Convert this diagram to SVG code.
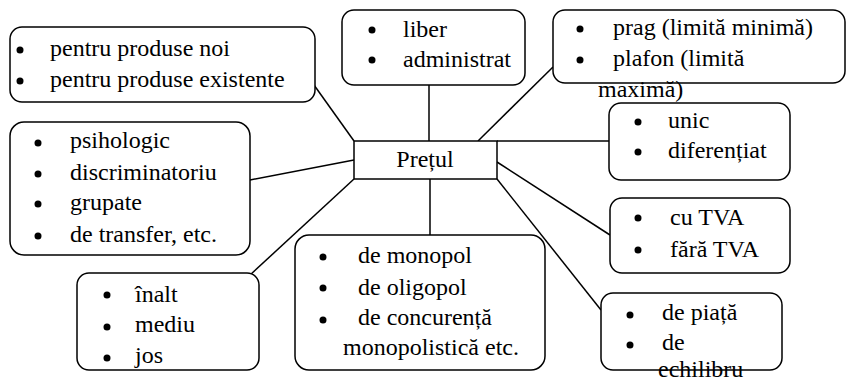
<svg xmlns="http://www.w3.org/2000/svg" width="846" height="383" viewBox="0 0 846 383">
<style>
.box{fill:#fff;stroke:#000;stroke-width:1.5}
.t{font-family:"Liberation Serif","DejaVu Serif",serif;font-size:24px;fill:#000}
.c{stroke:#000;stroke-width:1.5;fill:none}
.b{fill:#000}
</style>
<rect width="846" height="383" fill="#fff"/>
<g id="connectors">
<line class="c" x1="314" y1="85" x2="354" y2="141"/>
<line class="c" x1="429" y1="85" x2="429" y2="141"/>
<line class="c" x1="478" y1="141" x2="553" y2="67"/>
<line class="c" x1="497" y1="141" x2="609" y2="141"/>
<line class="c" x1="497" y1="162" x2="610" y2="235"/>
<line class="c" x1="497" y1="179" x2="601" y2="310"/>
<line class="c" x1="430" y1="179" x2="430" y2="235"/>
<line class="c" x1="354" y1="179" x2="250" y2="275"/>
<line class="c" x1="354" y1="160" x2="250" y2="180"/>
</g>
<g id="pretul">
<rect class="box" x="354" y="141" width="143" height="38"/>
<text class="t" x="425" y="167" text-anchor="middle">Prețul</text>
</g>
<g id="produse">
<rect class="box" x="10" y="27" width="305" height="75" rx="12"/>
<circle class="b" cx="20" cy="50" r="3.5"/><circle class="b" cx="20" cy="81" r="3.5"/>
<text class="t" x="50" y="56">pentru produse noi</text>
<text class="t" x="50" y="87">pentru produse existente</text>
</g>
<g id="liber">
<rect class="box" x="342" y="10" width="183" height="75" rx="12"/>
<circle class="b" cx="372" cy="30" r="3.5"/><circle class="b" cx="372" cy="60" r="3.5"/>
<text class="t" x="403" y="37">liber</text>
<text class="t" x="403" y="67">administrat</text>
</g>
<g id="prag">
<rect class="box" x="553" y="10" width="292" height="73" rx="12"/>
<circle class="b" cx="580" cy="29" r="3.5"/><circle class="b" cx="580" cy="60" r="3.5"/>
<text class="t" x="613" y="35">prag (limită minimă)</text>
<text class="t" x="613" y="66">plafon (limită</text>
<text class="t" x="598" y="97">maximă)</text>
</g>
<g id="unic">
<rect class="box" x="609" y="103" width="181" height="77" rx="12"/>
<circle class="b" cx="638" cy="122" r="3.5"/><circle class="b" cx="638" cy="152" r="3.5"/>
<text class="t" x="668" y="128">unic</text>
<text class="t" x="668" y="158">diferențiat</text>
</g>
<g id="tva">
<rect class="box" x="610" y="198" width="180" height="75" rx="12"/>
<circle class="b" cx="638" cy="218" r="3.5"/><circle class="b" cx="638" cy="250" r="3.5"/>
<text class="t" x="670" y="225">cu TVA</text>
<text class="t" x="670" y="257">fără TVA</text>
</g>
<g id="piata">
<rect class="box" x="601" y="293" width="181" height="77" rx="12"/>
<circle class="b" cx="630" cy="315" r="3.5"/><circle class="b" cx="630" cy="345" r="3.5"/>
<text class="t" x="662" y="320">de piață</text>
<text class="t" x="662" y="350">de</text>
<text class="t" x="658" y="377">echilibru</text>
</g>
<g id="psihologic">
<rect class="box" x="10" y="122" width="240" height="133" rx="14"/>
<circle class="b" cx="38" cy="143" r="3.5"/><circle class="b" cx="38" cy="174" r="3.5"/>
<circle class="b" cx="38" cy="204" r="3.5"/><circle class="b" cx="38" cy="236" r="3.5"/>
<text class="t" x="70" y="148">psihologic</text>
<text class="t" x="70" y="180">discriminatoriu</text>
<text class="t" x="70" y="210">grupate</text>
<text class="t" x="70" y="242">de transfer, etc.</text>
</g>
<g id="inalt">
<rect class="box" x="77" y="273" width="182" height="97" rx="12"/>
<circle class="b" cx="107" cy="295" r="3.5"/><circle class="b" cx="107" cy="327" r="3.5"/>
<circle class="b" cx="107" cy="358" r="3.5"/>
<text class="t" x="135" y="302">înalt</text>
<text class="t" x="135" y="332">mediu</text>
<text class="t" x="135" y="363">jos</text>
</g>
<g id="monopol">
<rect class="box" x="295" y="235" width="250" height="135" rx="14"/>
<circle class="b" cx="323" cy="257" r="3.5"/><circle class="b" cx="323" cy="288" r="3.5"/>
<circle class="b" cx="323" cy="320" r="3.5"/>
<text class="t" x="358" y="263">de monopol</text>
<text class="t" x="358" y="295">de oligopol</text>
<text class="t" x="358" y="325">de concurență</text>
<text class="t" x="343" y="355">monopolistică etc.</text>
</g>
</svg>
